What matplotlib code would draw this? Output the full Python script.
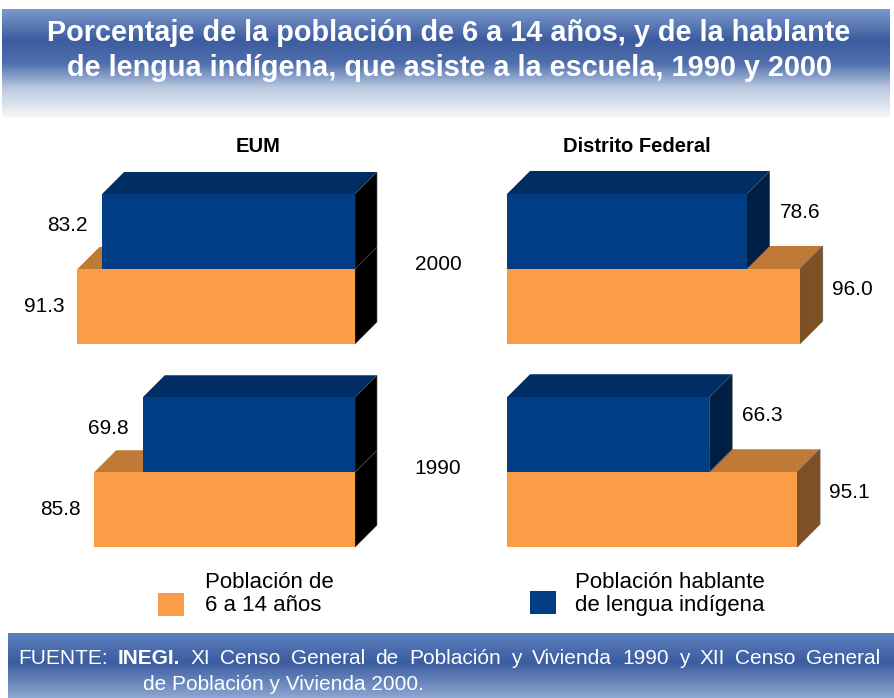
import numpy as np
import matplotlib
matplotlib.use("Agg")
import matplotlib.pyplot as plt
from matplotlib.patches import Polygon, Rectangle

plt.rcParams['font.family'] = ['Liberation Sans', 'DejaVu Sans']

# datos
years = ['2000', '1990']
eum_total = [91.3, 85.8]      # poblacion de 6 a 14 anos
eum_ind = [83.2, 69.8]        # hablante de lengua indigena
df_total = [96.0, 95.1]
df_ind = [78.6, 66.3]

W, H = 894, 698
fig = plt.figure(figsize=(W / 100, H / 100), dpi=100)
fig.patch.set_facecolor('white')

# fondo en pixeles para las bandas de titulo y fuente
bg = fig.add_axes([0, 0, 1, 1])
bg.set_xlim(0, W)
bg.set_ylim(H, 0)
bg.axis('off')


def gradient(stops, colors, n=200):
    t = np.linspace(0, 1, n)
    rgb = np.array([matplotlib.colors.to_rgb(c) for c in colors])
    arr = np.stack([np.interp(t, stops, rgb[:, k]) for k in range(3)], axis=1)
    return arr[:, None, :]


head = gradient([0, 0.28, 0.5, 0.72, 1.0],
                ['#7c99ca', '#3c5ca0', '#4f6fae', '#b9c8df', '#f7f7f8'])
bg.imshow(head, extent=(2, W - 4, 118, 9), aspect='auto', zorder=0)
foot = gradient([0, 0.45, 1.0], ['#5c80bf', '#3c5ca0', '#8ca7d1'])
bg.imshow(foot, extent=(8, W, H, 633), aspect='auto', zorder=0)

bg.text(W / 2 + 2, 33, 'Porcentaje de la población de 6 a 14 años, y de la hablante',
        color='white', fontsize=20.8, fontweight='bold', ha='center', va='center')
bg.text(W / 2 + 2, 68, 'de lengua indígena, que asiste a la escuela, 1990 y 2000',
        color='white', fontsize=20.8, fontweight='bold', ha='center', va='center')

# linea de fuente justificada, con INEGI en negritas
fig.canvas.draw()
rend = fig.canvas.get_renderer()
fs_foot = 15
words = [('FUENTE:', 'normal'), ('INEGI.', 'bold')] + \
    [(w, 'normal') for w in 'XI Censo General de Población y Vivienda 1990 y XII Censo General'.split()]
x0, x1 = 18, 880
arts = []
for s, wt in words:
    t = bg.text(0, 659, s, color='white', fontsize=fs_foot, fontweight=wt,
                ha='left', va='center')
    arts.append((t, t.get_window_extent(rend).width))
gap = (x1 - x0 - sum(w for _, w in arts)) / (len(arts) - 1)
x = x0
for t, w in arts:
    t.set_x(x)
    x += w + gap
bg.text(143, 684, 'de Población y Vivienda 2000.', color='white', fontsize=fs_foot,
        ha='left', va='center')

orange = dict(front='#fb9d48', top='#c07a38', side='#7f5026')
blue = dict(front='#003d85', top='#002d63', side='#001f45')
black_side = '#000000'

# ejes de los paneles: y en unidades de altura de barra (75 px)
px_bar = 75.0
y_top, y_bot = 150, 560
ax_h = (y_bot - y_top) / H
ax_b = (H - y_bot) / H
bases = [2.88, 0.17]          # base de cada grupo (2000, 1990)
depth_px = 22


def panel(px0, px1, zero_px, scale, invert):
    ax = fig.add_axes([px0 / W, ax_b, (px1 - px0) / W, ax_h])
    if invert:
        ax.set_xlim((zero_px - px0) / scale, (zero_px - px1) / scale)
    else:
        ax.set_xlim((px0 - zero_px) / scale, (px1 - zero_px) / scale)
    ax.set_ylim(0, (y_bot - y_top) / px_bar)
    ax.axis('off')
    return ax


def box(ax, v, b, col, side_col, dxs, dy, right_end, z):
    # cara frontal, superior y lateral de una barra
    xe = right_end
    top = [(0, b + 1), (v, b + 1), (v + dxs, b + 1 + dy), (dxs, b + 1 + dy)]
    side = [(xe, b), (xe, b + 1), (xe + dxs, b + 1 + dy), (xe + dxs, b + dy)]
    ax.add_patch(Polygon(top, closed=True, facecolor=col['top'], edgecolor='none', zorder=z))
    ax.add_patch(Polygon(side, closed=True, facecolor=side_col, edgecolor='#555555',
                         linewidth=0.4, zorder=z))
    ax.add_patch(Rectangle((0, b), v, 1, facecolor=col['front'], edgecolor='none', zorder=z))


dy = depth_px / px_bar

# EUM: barras crecen hacia la izquierda
sL = 3.04
axL = panel(10, 430, 355, sL, True)
dxL = -depth_px / sL
for i, b in enumerate(bases):
    box(axL, eum_total[i], b, orange, black_side, dxL, dy, 0, 2)
    box(axL, eum_ind[i], b + 1, blue, black_side, dxL, dy, 0, 3)
    axL.text(eum_total[i] + 13 / sL, b + 0.5, f'{eum_total[i]:.1f}', fontsize=15,
             ha='right', va='center')
    axL.text(eum_ind[i] + 14 / sL, b + 1.58, f'{eum_ind[i]:.1f}', fontsize=15,
             ha='right', va='center')

# Distrito Federal: barras crecen hacia la derecha
sR = 3.05
axR = panel(470, 894, 507, sR, False)
dxR = 23 / sR
for i, b in enumerate(bases):
    box(axR, df_total[i], b, orange, orange['side'], dxR, dy * 23 / 22, df_total[i], 2)
    box(axR, df_ind[i], b + 1, blue, blue['side'], dxR, dy * 23 / 22, df_ind[i], 3)
    axR.text(df_total[i] + dxR + 9 / sR, b + 0.73, f'{df_total[i]:.1f}', fontsize=15,
             ha='left', va='center')
    axR.text(df_ind[i] + dxR + 10 / sR, b + 1.76, f'{df_ind[i]:.1f}', fontsize=15,
             ha='left', va='center')

# etiquetas de anio y titulos de panel
for i, b in enumerate(bases):
    yp = y_bot - (b + 1) * px_bar - 4
    bg.text(438, yp, years[i], fontsize=15, ha='center', va='center')
bg.text(258, 146, 'EUM', fontsize=14.5, fontweight='bold', ha='center', va='center')
bg.text(637, 146, 'Distrito Federal', fontsize=14.5, fontweight='bold',
        ha='center', va='center')

# leyenda
bg.add_patch(Rectangle((158, 593), 26, 23, facecolor=orange['front'], edgecolor='none'))
bg.text(205, 594, 'Población de\n6 a 14 años', fontsize=16, ha='left', va='center',
        linespacing=1.12)
bg.add_patch(Rectangle((530, 591), 26, 23, facecolor=blue['front'], edgecolor='none'))
bg.text(575, 594, 'Población hablante\nde lengua indígena', fontsize=16, ha='left',
        va='center', linespacing=1.12)

fig.savefig('out.png', dpi=100, facecolor='white')
